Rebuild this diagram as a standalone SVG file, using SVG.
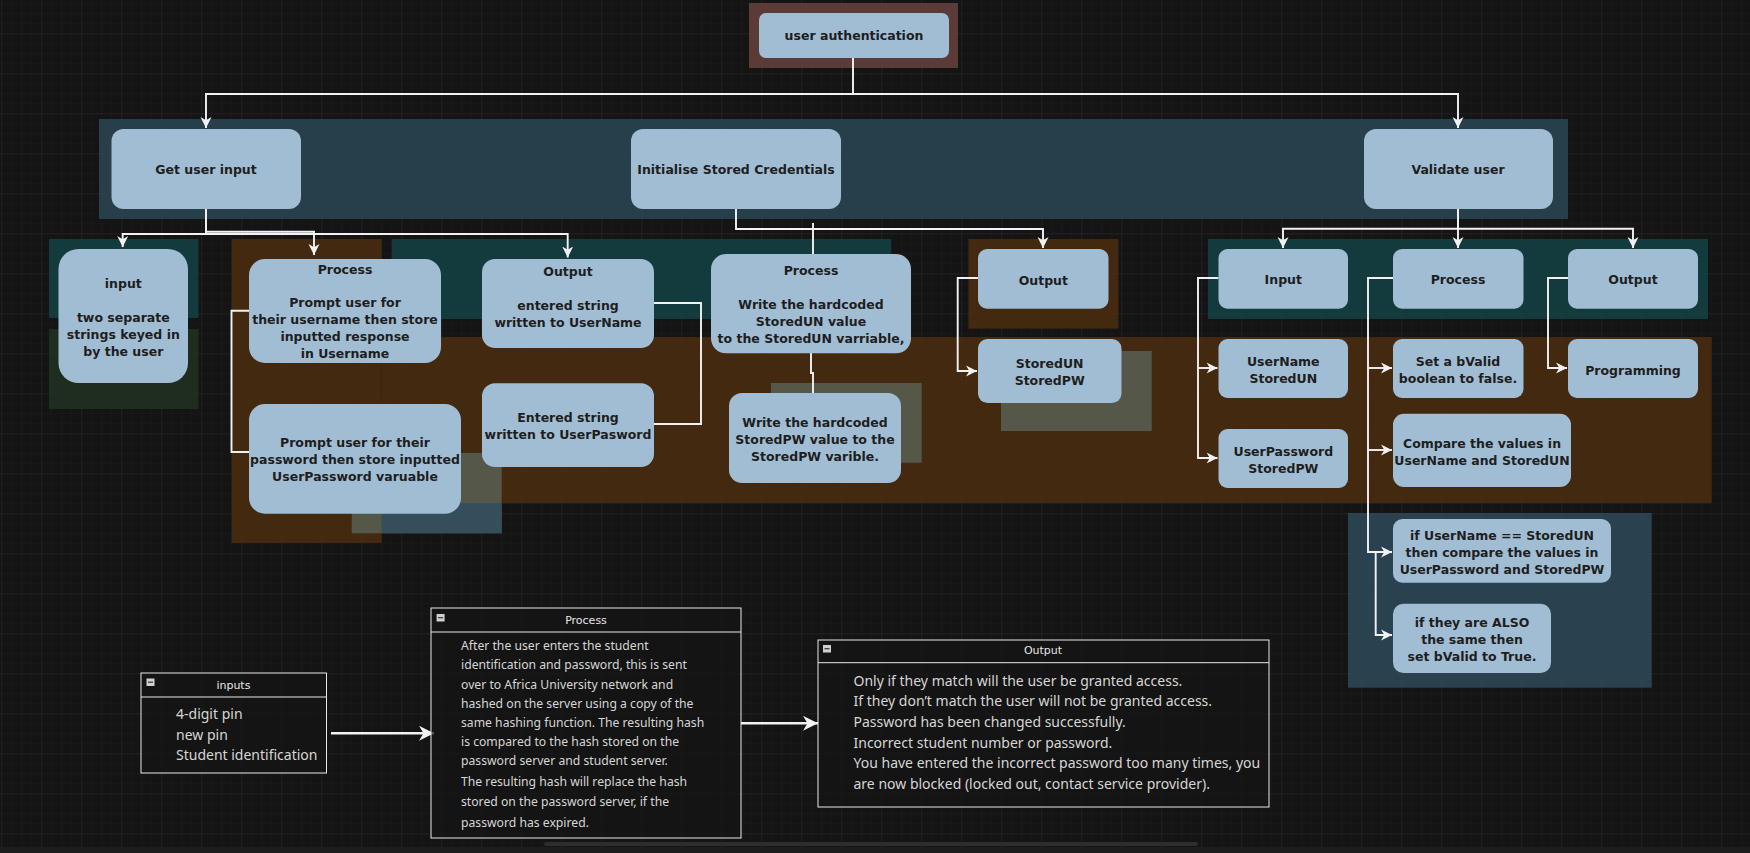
<svg xmlns="http://www.w3.org/2000/svg" width="1750" height="853" viewBox="0 0 1750 853">
<style>
.n{fill:#a1bdd3}
.t{font-family:"DejaVu Sans",Verdana,sans-serif;font-weight:bold;font-size:12.5px;fill:#1e1e1e;text-anchor:middle;dominant-baseline:central}
.c{fill:none;stroke:#f2f2f2;stroke-width:1.9}
.cb{fill:none;stroke:#f2f2f2;stroke-width:2.6}
.bx{fill:#141414;fill-opacity:0.7;stroke:#e8e8e8;stroke-width:1}
.hd{stroke:#e8e8e8;stroke-width:1}
.ht{font-family:"DejaVu Sans",Verdana,sans-serif;font-size:11px;fill:#e6e6e6;text-anchor:middle;dominant-baseline:central}
.bt{font-family:"Noto Sans","Open Sans",sans-serif;font-size:14px;fill:#d6d6d6;dominant-baseline:central}
.bp{font-size:12.2px}
.mi{fill:#d0d0d0}
.ml{stroke:#333;stroke-width:1.2}
</style>
<defs>
<pattern id="gm" width="10" height="10" patternUnits="userSpaceOnUse" x="1.3" y="3.3">
<path d="M0,0H10M0,0V10" stroke="#1b1b1b" stroke-width="1" fill="none"/>
</pattern>
<pattern id="gM" width="40" height="40" patternUnits="userSpaceOnUse" x="1.3" y="33.3">
<path d="M0,0H40M0,0V40" stroke="#2a2a2a" stroke-width="1" fill="none"/>
</pattern>
<marker id="a" viewBox="0 0 10 10" refX="10" refY="5" markerWidth="11" markerHeight="12" markerUnits="userSpaceOnUse" orient="auto">
<path d="M0,0L10,5L0,10L3,5Z" fill="#f2f2f2"/>
</marker>
<marker id="A" viewBox="0 0 10 10" refX="10" refY="5" markerWidth="17" markerHeight="15" markerUnits="userSpaceOnUse" orient="auto">
<path d="M0,0L10,5L0,10L3,5Z" fill="#f2f2f2"/>
</marker>
</defs>
<rect width="1750" height="853" fill="#141414"/>
<rect width="1750" height="853" fill="url(#gm)"/>
<rect width="1750" height="853" fill="url(#gM)"/>

<g id="bands" fill-opacity="0.8">
<rect x="749" y="3" width="209" height="65" fill="#6b4541"/>
<rect x="99" y="119" width="1469" height="100" fill="#2c4a59"/>
<rect x="49" y="239" width="149.5" height="79" fill="#134446"/>
<rect x="49" y="329" width="149.5" height="80" fill="#213321"/>
<rect x="231.5" y="239" width="150.2" height="304" fill="#4e2e0e"/>
<rect x="391.7" y="239" width="499.3" height="80" fill="#134446"/>
<rect x="968.4" y="239" width="150" height="89.7" fill="#4e2e0e"/>
<rect x="1208" y="239" width="500" height="80" fill="#134446"/>
<rect x="381.7" y="337" width="1330" height="166.3" fill="#4e2e0e"/>
<rect x="351.7" y="453" width="150" height="80.3" fill="#5a6357"/>
<rect x="381.7" y="503.3" width="120" height="30" fill="#304e5f"/>
<rect x="771" y="383" width="150.7" height="79.7" fill="#5a6357"/>
<rect x="1001" y="351" width="150.7" height="80" fill="#5a6357"/>
<rect x="1348" y="513" width="303.7" height="174.7" fill="#304e5f"/>
</g>

<g id="connectors">
<path class="c" d="M853,58V94H206V128" marker-end="url(#a)"/>
<path class="c" d="M853,94H1458V128" marker-end="url(#a)"/>
<path class="c" d="M206,209V234H122.7V247" marker-end="url(#a)"/>
<path class="c" d="M206,209V231.7H314V255" marker-end="url(#a)"/>
<path class="c" d="M206,234H567.7V257.5" marker-end="url(#a)"/>
<path class="c" d="M249,310.7H231.5V452H249"/>
<path class="c" d="M654,303H701V424H654"/>
<path class="c" d="M736,209V229H1043V248" marker-end="url(#a)"/>
<path class="c" d="M813,223V254"/>
<path class="c" d="M811,353V373H813V393"/>
<path class="c" d="M978,278H957.7V371H977" marker-end="url(#a)"/>
<path class="c" d="M1458,209V228.7H1283V248" marker-end="url(#a)"/>
<path class="c" d="M1458,209V248" marker-end="url(#a)"/>
<path class="c" d="M1458,228.7H1633V248" marker-end="url(#a)"/>
<path class="c" d="M1218.5,278H1198V458H1217.5" marker-end="url(#a)"/>
<path class="c" d="M1198,368H1217.5" marker-end="url(#a)"/>
<path class="c" d="M1393,278H1368V552H1392" marker-end="url(#a)"/>
<path class="c" d="M1368,368H1392" marker-end="url(#a)"/>
<path class="c" d="M1368,450H1392" marker-end="url(#a)"/>
<path class="c" d="M1375.7,552V635H1392" marker-end="url(#a)"/>
<path class="c" d="M1568,278H1548V368H1567" marker-end="url(#a)"/>
<path class="cb" d="M331,733.3H434" marker-end="url(#A)"/>
<path class="cb" d="M741,723.3H818" marker-end="url(#A)"/>
</g>

<g id="n-auth"><rect class="n" x="759" y="13" width="190" height="45" rx="7"/><text class="t" x="854" y="35.5">user authentication</text></g>
<g id="n-getinput"><rect class="n" x="111.5" y="129" width="189.5" height="80" rx="12"/><text class="t" x="206" y="169">Get user input</text></g>
<g id="n-init"><rect class="n" x="631" y="129" width="210" height="80" rx="12"/><text class="t" x="736" y="169">Initialise Stored Credentials</text></g>
<g id="n-validate"><rect class="n" x="1364" y="129" width="189" height="80" rx="12"/><text class="t" x="1458" y="169">Validate user</text></g>

<g id="n-input1"><rect class="n" x="58.5" y="249" width="129.5" height="134" rx="20"/>
<text class="t" x="123.3" y="283.3">input</text><text class="t" x="123.3" y="317">two separate</text><text class="t" x="123.3" y="334">strings keyed in</text><text class="t" x="123.3" y="351">by the user</text></g>
<g id="n-process1"><rect class="n" x="249" y="259" width="192" height="104" rx="16"/>
<text class="t" x="345" y="269.3">Process</text><text class="t" x="345" y="302.7">Prompt user for</text><text class="t" x="345" y="319.7">their username then store</text><text class="t" x="345" y="336.7">inputted response</text><text class="t" x="345" y="353.7">in Username</text></g>
<g id="n-output1"><rect class="n" x="482" y="259" width="172" height="89" rx="13"/>
<text class="t" x="568" y="271.7">Output</text><text class="t" x="568" y="305">entered string</text><text class="t" x="568" y="322">written to UserName</text></g>
<g id="n-promptpw"><rect class="n" x="249" y="404" width="212" height="109.7" rx="16"/>
<text class="t" x="355" y="442.7">Prompt user for their</text><text class="t" x="355" y="459.7">password then store inputted</text><text class="t" x="355" y="476.7">UserPassword varuable</text></g>
<g id="n-enteredpw"><rect class="n" x="482" y="383.3" width="172" height="83.7" rx="13"/>
<text class="t" x="568" y="417">Entered string</text><text class="t" x="568" y="434">written to UserPasword</text></g>

<g id="n-process2"><rect class="n" x="711" y="254" width="200" height="99.3" rx="15"/>
<text class="t" x="811" y="270">Process</text><text class="t" x="811" y="304">Write the hardcoded</text><text class="t" x="811" y="321">StoredUN value</text><text class="t" x="811" y="338">to the StoredUN varriable,</text></g>
<g id="n-writepw"><rect class="n" x="729" y="393" width="172" height="90" rx="13"/>
<text class="t" x="815" y="422">Write the hardcoded</text><text class="t" x="815" y="439">StoredPW value to the</text><text class="t" x="815" y="456">StoredPW varible.</text></g>
<g id="n-output2"><rect class="n" x="978" y="249" width="130.5" height="59.7" rx="9"/><text class="t" x="1043.3" y="280">Output</text></g>
<g id="n-stored"><rect class="n" x="978" y="339" width="143.5" height="64" rx="9.5"/>
<text class="t" x="1049.7" y="363.3">StoredUN</text><text class="t" x="1049.7" y="380">StoredPW</text></g>

<g id="n-input3"><rect class="n" x="1218.5" y="249" width="129.5" height="59.7" rx="9"/><text class="t" x="1283.3" y="279">Input</text></g>
<g id="n-process3"><rect class="n" x="1393" y="249" width="130.5" height="59.7" rx="9"/><text class="t" x="1458" y="279">Process</text></g>
<g id="n-output3"><rect class="n" x="1568" y="249" width="130" height="59.7" rx="9"/><text class="t" x="1633" y="279">Output</text></g>
<g id="n-username"><rect class="n" x="1218.5" y="339" width="129.5" height="59" rx="9"/>
<text class="t" x="1283.3" y="361">UserName</text><text class="t" x="1283.3" y="378">StoredUN</text></g>
<g id="n-userpassword"><rect class="n" x="1218.5" y="429" width="129.5" height="59" rx="9"/>
<text class="t" x="1283.3" y="451">UserPassword</text><text class="t" x="1283.3" y="468">StoredPW</text></g>
<g id="n-setbvalid"><rect class="n" x="1393" y="339" width="130.5" height="59" rx="9"/>
<text class="t" x="1458" y="361">Set a bValid</text><text class="t" x="1458" y="378">boolean to false.</text></g>
<g id="n-programming"><rect class="n" x="1568" y="339" width="130" height="59" rx="9"/><text class="t" x="1633" y="370">Programming</text></g>
<g id="n-compare"><rect class="n" x="1393" y="413.7" width="178" height="73.3" rx="11"/>
<text class="t" x="1482" y="443">Compare the values in</text><text class="t" x="1482" y="460">UserName and StoredUN</text></g>
<g id="n-ifusername"><rect class="n" x="1393" y="519" width="218" height="63.7" rx="9.5"/>
<text class="t" x="1502" y="535">if UserName == StoredUN</text><text class="t" x="1502" y="552">then compare the values in</text><text class="t" x="1502" y="569">UserPassword and StoredPW</text></g>
<g id="n-ifalso"><rect class="n" x="1393" y="603.7" width="158" height="69.3" rx="10.5"/>
<text class="t" x="1472" y="622">if they are ALSO</text><text class="t" x="1472" y="639"> the same then</text><text class="t" x="1472" y="656">set bValid to True.</text></g>

<g id="n-inputs">
<rect class="bx" x="141" y="673" width="185.5" height="100"/>
<line class="hd" x1="141" y1="697" x2="326.5" y2="697"/>
<rect class="mi" x="146.5" y="678.5" width="8" height="7.5"/><line class="ml" x1="148" y1="682.2" x2="153" y2="682.2"/>
<text class="ht" x="233.4" y="685">inputs</text>
<text class="bt" x="176" y="713.7">4-digit pin</text>
<text class="bt" x="176" y="734">new pin</text>
<text class="bt" x="176" y="754.3">Student identification</text>
</g>
<g id="n-process-detail">
<rect class="bx" x="431" y="608" width="310" height="230"/>
<line class="hd" x1="431" y1="632" x2="741" y2="632"/>
<rect class="mi" x="436.6" y="614" width="8" height="7.5"/><line class="ml" x1="438.1" y1="617.7" x2="443.1" y2="617.7"/>
<text class="ht" x="586" y="620">Process</text>
<text class="bt bp" x="461" y="645.7">After the user enters the student</text>
<text class="bt bp" x="461" y="664.7">identification and password, this is sent</text>
<text class="bt bp" x="461" y="684">over to Africa University network and</text>
<text class="bt bp" x="461" y="703.3">hashed on the server using a copy of the</text>
<text class="bt bp" x="461" y="722.3">same hashing function. The resulting hash</text>
<text class="bt bp" x="461" y="741.3">is compared to the hash stored on the</text>
<text class="bt bp" x="461" y="760.7">password server and student server.</text>
<text class="bt bp" x="461" y="781.7">The resulting hash will replace the hash</text>
<text class="bt bp" x="461" y="801.3">stored on the password server, if the</text>
<text class="bt bp" x="461" y="822">password has expired.</text>
</g>
<g id="n-output-detail">
<rect class="bx" x="818" y="640" width="451" height="167"/>
<line class="hd" x1="818" y1="662.7" x2="1269" y2="662.7"/>
<rect class="mi" x="823" y="645" width="8" height="7.5"/><line class="ml" x1="824.5" y1="648.7" x2="829.5" y2="648.7"/>
<text class="ht" x="1043" y="650.7">Output</text>
<text class="bt" x="853.5" y="680">Only if they match will the user be granted access.</text>
<text class="bt" x="853.5" y="700.7">If they don’t match the user will not be granted access.</text>
<text class="bt" x="853.5" y="721.3">Password has been changed successfully.</text>
<text class="bt" x="853.5" y="742.3">Incorrect student number or password.</text>
<text class="bt" x="853.5" y="762.7">You have entered the incorrect password too many times, you</text>
<text class="bt" x="853.5" y="783.3">are now blocked (locked out, contact service provider).</text>
</g>

<rect x="0" y="847" width="1750" height="6" fill="#1d1d1d"/>
<rect x="544" y="842" width="654" height="4" rx="2" fill="#2e2e2e"/>
</svg>
